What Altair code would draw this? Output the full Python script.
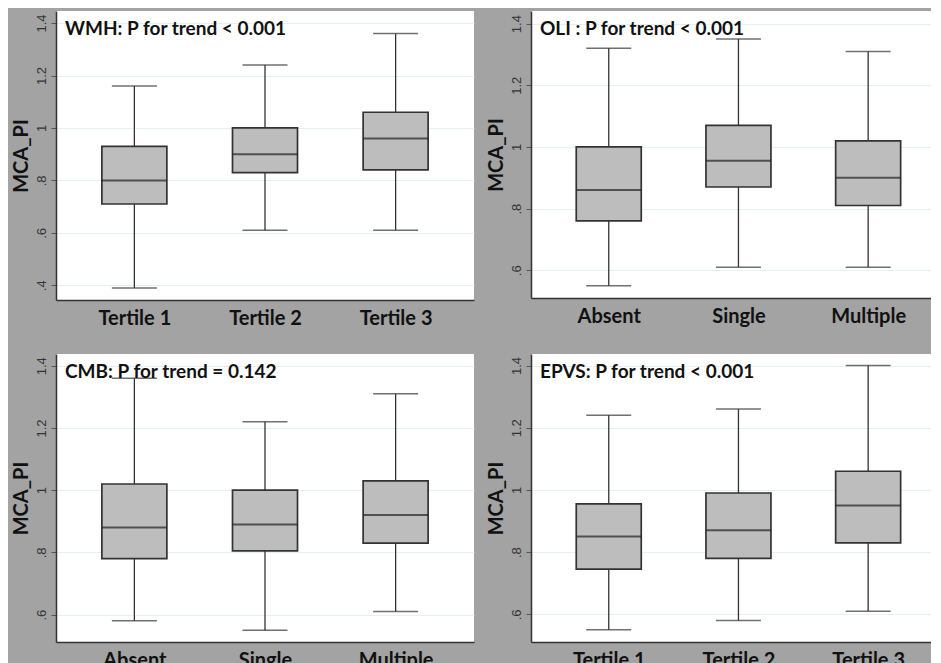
import altair as alt
import pandas as pd

# ---- data ----
tertiles = ["Tertile 1", "Tertile 2", "Tertile 3"]
counts = ["Absent", "Single", "Multiple"]

wmh_lo = [0.39, 0.61, 0.61]
wmh_q1 = [0.71, 0.83, 0.84]
wmh_med = [0.80, 0.90, 0.96]
wmh_q3 = [0.93, 1.00, 1.06]
wmh_hi = [1.16, 1.24, 1.36]

oli_lo = [0.55, 0.61, 0.61]
oli_q1 = [0.76, 0.87, 0.81]
oli_med = [0.86, 0.955, 0.90]
oli_q3 = [1.00, 1.07, 1.02]
oli_hi = [1.32, 1.35, 1.31]

cmb_lo = [0.58, 0.55, 0.61]
cmb_q1 = [0.78, 0.805, 0.83]
cmb_med = [0.88, 0.89, 0.92]
cmb_q3 = [1.02, 1.00, 1.03]
cmb_hi = [1.36, 1.22, 1.31]

epvs_lo = [0.55, 0.58, 0.61]
epvs_q1 = [0.745, 0.78, 0.83]
epvs_med = [0.85, 0.87, 0.95]
epvs_q3 = [0.955, 0.99, 1.06]
epvs_hi = [1.24, 1.26, 1.40]

titles = ["WMH: P for trend < 0.001", "OLI : P for trend < 0.001",
          "CMB: P for trend = 0.142", "EPVS: P for trend < 0.001"]

ticks_full = [0.4, 0.6, 0.8, 1.0, 1.2, 1.4]
ticks_short = [0.6, 0.8, 1.0, 1.2, 1.4]

BOX_FILL = "#bdbdbd"
DARK = "#333333"
LABEL_EXPR = ("datum.value == 1 ? '1' : (datum.value < 1 ? "
              "substring(format(datum.value, '.1f'), 1) : format(datum.value, '.1f'))")


def panel(cats, lo, q1, med, q3, hi, title, domain, yticks, width, height, pad, align):
    df = pd.DataFrame({"cat": cats, "lo": lo, "q1": q1, "med": med, "q3": q3, "hi": hi})
    xenc = alt.X("cat:N", sort=cats, title=None,
                 scale=alt.Scale(type="point", padding=pad, align=align),
                 axis=alt.Axis(labelFont="Lato", labelFontWeight="bold", labelFontSize=20,
                               labelColor="#111111", labelAngle=0, ticks=False,
                               labelPadding=8, domainColor=DARK, domainWidth=1.5,
                               grid=False))
    yscale = alt.Scale(domain=domain, nice=False, zero=False)
    yaxis = alt.Axis(values=yticks, labelExpr=LABEL_EXPR, labelAngle=270,
                     labelAlign="center", labelBaseline="bottom",
                     labelFont="Liberation Sans", labelFontSize=13, labelColor="#333333",
                     labelPadding=3, tickSize=5, tickColor="#555555",
                     domainColor=DARK, domainWidth=1.5,
                     grid=True, gridColor="#e6eff1", gridWidth=1,
                     title="MCA_PI", titleFont="Lato", titleFontWeight="bold",
                     titleFontSize=20, titleColor="#111111", titlePadding=4)
    base = alt.Chart(df)
    whisk = base.mark_rule(color=DARK, strokeWidth=1.3).encode(
        x=xenc, y=alt.Y("lo:Q", scale=yscale, axis=yaxis), y2="hi:Q")
    box = base.mark_bar(size=65, fill=BOX_FILL, stroke=DARK, strokeWidth=1.7).encode(
        x=alt.X("cat:N", sort=cats), y=alt.Y("q1:Q"), y2="q3:Q")
    med_t = base.mark_tick(size=65, thickness=2, color="#222222").encode(
        x=alt.X("cat:N", sort=cats), y=alt.Y("med:Q"))
    cap_lo = base.mark_tick(size=45, thickness=1.5, color=DARK).encode(
        x=alt.X("cat:N", sort=cats), y=alt.Y("lo:Q"))
    cap_hi = base.mark_tick(size=45, thickness=1.5, color=DARK).encode(
        x=alt.X("cat:N", sort=cats), y=alt.Y("hi:Q"))
    txt = alt.Chart(pd.DataFrame({"t": [title]})).mark_text(
        font="Lato", fontWeight="bold", fontSize=19, color="#111111",
        align="left", baseline="alphabetic").encode(
        text="t:N", x=alt.value(9), y=alt.value(24))
    return alt.layer(whisk, box, med_t, cap_lo, cap_hi, txt).properties(
        width=width, height=height)


tl = panel(tertiles, wmh_lo, wmh_q1, wmh_med, wmh_q3, wmh_hi, titles[0],
           [0.344, 1.446], ticks_full, 418, 289, 0.6, 0.5)
tr = panel(counts, oli_lo, oli_q1, oli_med, oli_q3, oli_hi, titles[1],
           [0.510, 1.441], ticks_short, 400, 287, 0.542, 0.553)
bl = panel(counts, cmb_lo, cmb_q1, cmb_med, cmb_q3, cmb_hi, titles[2],
           [0.512, 1.438], ticks_short, 418, 288, 0.6, 0.5)
br = panel(tertiles, epvs_lo, epvs_q1, epvs_med, epvs_q3, epvs_hi, titles[3],
           [0.511, 1.437], ticks_short, 400, 288, 0.542, 0.553)

chart = alt.concat(tl, tr, bl, br, columns=2, spacing={"row": 54, "column": 57},
                   bounds="flush").properties(
    padding={"left": 3, "top": 3, "right": 0, "bottom": 0}
).configure(background="#a3a3a3").configure_view(strokeWidth=0, fill="white")

chart.save("out.html", embed_options={"renderer": "svg", "actions": False})
